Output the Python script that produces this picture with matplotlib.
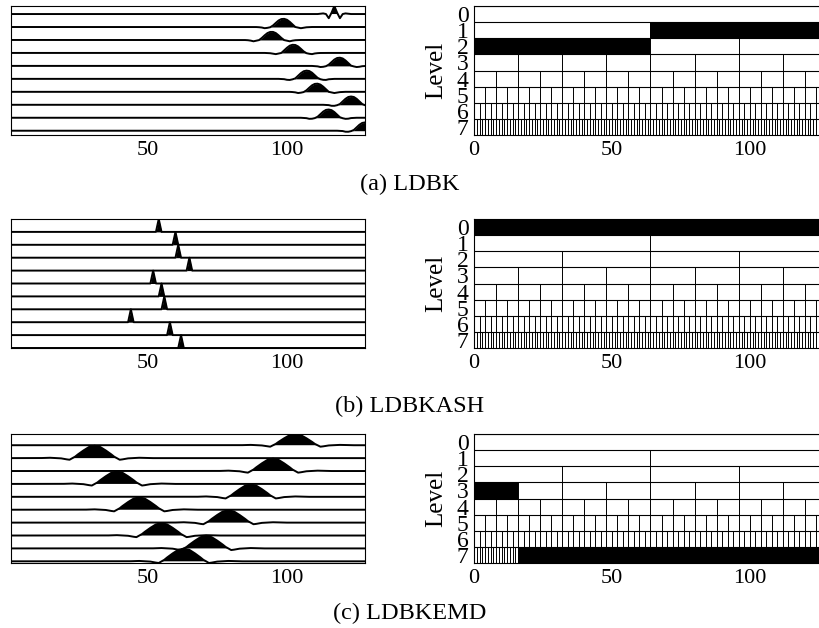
import numpy as np
import matplotlib
matplotlib.use("Agg")
import matplotlib.pyplot as plt

plt.rcParams["font.family"] = ["Liberation Serif", "DejaVu Serif"]

# ---- data -----------------------------------------------------------------
n_samples = 128
n_levels = 8
sample_x = np.arange(1, n_samples + 1)

# centres of the ten displayed basis vectors, top trace first
ldbk_centers = [117, 98.7, 94.5, 102.3, 118.8, 107.1, 110.7, 123.0, 114.9, 128.0]
ldbk_heights = [0.62, 0.64, 0.64, 0.64, 0.64, 0.64, 0.64, 0.64, 0.64, 0.64]
ldbkash_centers = [54, 60, 61, 65, 52, 55, 56, 44, 58, 62]
ldbkash_heights = [1.0] * 10
ldbkemd_centers = [103, 31, 95, 39, 87, 47, 79, 55, 71, 63]
ldbkemd_heights = [0.87, 0.96, 0.96, 0.96, 0.96, 0.96, 0.96, 0.96, 0.97, 0.99]

# waveform profiles (offset in samples, relative amplitude)
wide_offsets = [-10, -8, -6.5, -5, -4.3, -3, -2, -1, 0, 1, 2, 3, 4.3, 5, 6.5, 8, 10]
wide_profile = [0.0, -0.04, -0.16, -0.05, 0.0, 0.4, 0.72, 0.94, 1.0,
                0.94, 0.72, 0.4, 0.0, -0.05, -0.16, -0.04, 0.0]
spike_offsets = [-6, -4, -3, -2.2, -1.2, 0, 1.2, 2.2, 3, 4, 6]
spike_profile = [0.0, 0.08, 0.0, -0.65, 0.0, 1.0, 0.0, -0.65, 0.0, 0.08, 0.0]
delta_offsets = [-1, 0, 1]
delta_profile = [0.0, 1.0, 0.0]
broad_offsets = [-20, -16, -12, -10, -9, -8, -7, -6, -4, -2, 0,
                 2, 4, 6, 7, 8, 9, 10, 12, 16, 20]
broad_profile = [0.0, 0.03, -0.02, -0.10, -0.13, 0.0, 0.12, 0.3, 0.62, 0.9, 1.0,
                 0.9, 0.62, 0.3, 0.12, 0.0, -0.13, -0.10, -0.02, 0.03, 0.0]

# selected blocks of the dyadic tree: (level, block index)
ldbk_blocks = [(1, 1), (2, 0), (2, 1)]
ldbkash_blocks = [(0, 0)]
ldbkemd_blocks = [(3, 0)] + [(7, k) for k in range(16, 128)]

captions = ["(a) LDBK", "(b) LDBKASH", "(c) LDBKEMD"]


def waveform(center, height, offsets, profile):
    d = sample_x - center
    return height * np.interp(d, offsets, profile, left=0.0, right=0.0)


def draw_traces(ax, centers, heights, kernels, bottom_pad):
    n = len(centers)
    for i, (c, h) in enumerate(zip(centers, heights)):
        base = n - 1 - i
        offs, prof = kernels[i]
        y = base + waveform(c, h, offs, prof)
        ax.fill_between(sample_x, base, y, where=y > base, interpolate=True,
                        color="black", lw=0, zorder=2)
        ax.plot(sample_x, y, color="black", lw=1.4, zorder=3)
    ax.margins(x=0, y=0)
    lo, hi = ax.get_ylim()
    ax.set_ylim(min(lo, -bottom_pad), hi)
    ax.set_xticks([50, 100])
    ax.set_yticks([])
    ax.tick_params(axis="x", length=0, labelsize=16, pad=4)
    for s in ax.spines.values():
        s.set_linewidth(0.8)


def draw_tree(ax, blocks):
    for level in range(n_levels):
        nb = 2 ** level
        w = n_samples / nb
        ax.hlines(level, 0, n_samples, color="black", lw=0.8, zorder=1)
        if nb > 1:
            xs = np.arange(1, nb) * w
            ax.vlines(xs, level, level + 1, color="black", lw=0.7, zorder=1)
    for level, k in blocks:
        w = n_samples / 2 ** level
        ax.barh(level + 0.5, w, left=k * w, height=1.0, color="black",
                lw=0, zorder=2)
    ax.set_xlim(0, n_samples)
    ax.set_ylim(n_levels, 0)
    ax.set_xticks([0, 50, 100])
    ax.set_yticks(np.arange(n_levels) + 0.5)
    ax.set_yticklabels([str(l) for l in range(n_levels)])
    ax.tick_params(axis="x", length=0, labelsize=16, pad=4)
    ax.tick_params(axis="y", length=0, labelsize=17, pad=4)
    ax.set_ylabel("Level", fontsize=18, labelpad=7)
    for s in ax.spines.values():
        s.set_linewidth(0.8)


W, H = 820, 628
fig = plt.figure(figsize=(W / 100, H / 100), dpi=100)

rows_top = [6, 219, 434]
row_h = 129
caption_y = [184, 406, 613]
bottom_pads = [0.33, 0.0, 0.13]

trace_sets = [
    (ldbk_centers, ldbk_heights,
     [(spike_offsets, spike_profile)] + [(wide_offsets, wide_profile)] * 9),
    (ldbkash_centers, ldbkash_heights, [(delta_offsets, delta_profile)] * 10),
    (ldbkemd_centers, ldbkemd_heights, [(broad_offsets, broad_profile)] * 10),
]
block_sets = [ldbk_blocks, ldbkash_blocks, ldbkemd_blocks]

for r in range(3):
    bottom = 1 - (rows_top[r] + row_h) / H
    axl = fig.add_axes([11 / W, bottom, 354 / W, row_h / H])
    centers, heights, kernels = trace_sets[r]
    draw_traces(axl, centers, heights, kernels, bottom_pads[r])

    axr = fig.add_axes([474 / W, bottom, 353 / W, row_h / H])
    draw_tree(axr, block_sets[r])

    fig.text(0.5, 1 - caption_y[r] / H, captions[r], ha="center",
             va="center", fontsize=17.5)

fig.savefig("out.png", dpi=100)
